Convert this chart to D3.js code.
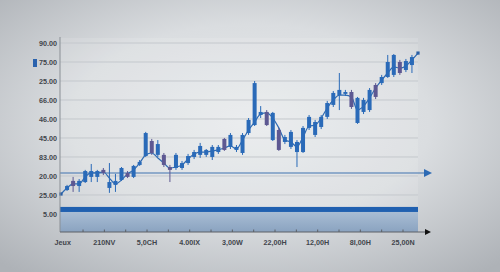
<!DOCTYPE html>
<html><head><meta charset="utf-8">
<script src="https://cdn.jsdelivr.net/npm/d3@7"></script>
<style>html,body{margin:0;padding:0;overflow:hidden;}svg{display:block;}</style>
</head><body>
<svg id="c" width="500" height="272"></svg>
<script>
// ---- data ----
const yTickValues = [0, 10, 20, 30, 40, 50, 60, 70, 80, 90];
const yTickLabels = ["5.00", "25.00", "20.00", "83.00", "45.00", "46.00", "66.00", "25.00", "75.00", "90.00"];
const xTickLabels = ["Jeux", "210NV", "5,0CH", "4.00IX", "3,00W", "22,00H", "12,00H", "8I,00H", "25,00N"];
const opens  = [12.6,17.4,14.7,16.8,19.5,19.5,23.2,13.7,15.3,17.9,21.6,19.5,25.8,30.5,38.4,31.1,31.1,24.7,24.2,24.2,26.8,30.0,31.1,31.1,30.0,32.6,39.5,35.3,33.7,32.1,42.6,46.8,52.1,53.7,38.9,44.2,37.9,35.3,32.6,32.6,45.3,41.6,45.8,51.1,57.4,62.6,63.2,64.2,47.9,53.7,54.7,67.9,68.9,72.1,73.2,80.0,75.8,78.4];
const closes = [14.7,14.7,17.4,22.6,22.6,22.6,21.6,16.8,17.4,24.2,19.5,25.3,27.4,42.6,32.1,36.8,25.8,23.2,31.1,26.8,30.5,32.6,35.8,33.7,35.3,35.3,33.7,41.6,35.3,41.6,49.5,68.9,53.7,46.8,53.2,33.7,40.5,43.2,37.9,45.3,51.1,48.4,51.1,58.4,63.7,65.3,64.2,56.3,61.1,60.0,65.3,61.6,72.1,80.0,83.7,74.2,80.5,82.6];
const highs  = [15.3,19.5,18.4,23.2,26.3,23.2,24.2,26.8,21.1,24.7,22.6,25.8,28.4,43.2,39.5,38.9,32.1,25.8,32.1,27.9,31.6,33.7,37.4,34.2,36.3,36.3,40.0,42.6,36.3,42.6,50.5,70.0,56.8,54.7,53.7,45.3,41.6,44.2,38.9,46.3,52.1,49.5,52.1,59.5,64.7,74.2,65.3,65.3,61.6,61.1,66.3,68.9,73.2,83.7,84.2,81.1,81.6,83.7];
const lows   = [12.1,11.6,11.6,16.3,16.8,16.8,20.5,11.1,11.6,17.4,18.9,18.9,25.3,30.0,31.1,30.0,24.7,16.8,23.2,23.2,25.8,28.9,29.5,30.0,28.4,31.6,33.2,34.2,32.6,31.1,41.6,46.3,50.5,46.3,38.4,33.2,36.8,34.2,24.7,32.1,44.2,40.5,44.7,50.0,56.3,54.7,62.1,55.3,47.4,52.6,53.7,60.5,67.9,71.6,72.1,73.2,74.7,74.2];
// trend line, points at index -1 .. 58
const trend = [10.5,13.7,15.8,15.8,19.5,21.6,21.6,22.1,18.9,15.8,17.9,21.1,23.2,26.8,31.1,32.1,29.5,26.8,24.2,24.7,25.8,28.9,31.6,32.6,32.6,33.2,33.7,34.7,35.8,34.2,38.9,44.2,48.4,52.6,53.2,50.5,45.3,38.9,37.9,35.3,40.5,46.3,46.8,50.5,55.8,60.0,62.6,62.6,61.6,54.7,56.8,61.1,66.3,70.5,74.2,77.4,76.8,77.9,81.1,84.7];
const refLevel = 21.6;
const bandTop = 3.7, bandBottom = 1.05;

// ---- setup ----
const svg = d3.select("#c");
const W = 500, H = 272;
const defs = svg.append("defs");
const rg = defs.append("radialGradient").attr("id","bg").attr("cx","0.5").attr("cy","0.45").attr("r","0.72");
rg.append("stop").attr("offset","0%").attr("stop-color","#e8ebed");
rg.append("stop").attr("offset","50%").attr("stop-color","#dadde0");
rg.append("stop").attr("offset","100%").attr("stop-color","#aeb2b7");
const lg = defs.append("linearGradient").attr("id","fill").attr("x1",0).attr("y1",0).attr("x2",0).attr("y2",1);
lg.append("stop").attr("offset","0%").attr("stop-color","#a9bdd4");
lg.append("stop").attr("offset","100%").attr("stop-color","#8aa3c0");
svg.append("rect").attr("width",W).attr("height",H).attr("fill","url(#bg)");

const x0 = 60, x1 = 418;
const y = d3.scaleLinear().domain([-9.5, 90]).range([232, 43]);
const x = d3.scaleLinear().domain([-1, 58]).range([61, 418]);
const xa = d3.scaleLinear().domain([0, 16]).range([61.7, 403]);

// plot area slight highlight
svg.append("rect").attr("x", x0).attr("y", 38).attr("width", x1 - x0).attr("height", y(bandTop) - 38)
  .attr("fill", "#ffffff").attr("opacity", 0.12);

// gridlines
svg.append("g").selectAll("line").data(yTickValues).join("line")
  .attr("x1", x0).attr("x2", x1).attr("y1", d => y(d)).attr("y2", d => y(d))
  .attr("stroke", "#c4c8cd").attr("stroke-width", 1);

// y labels
svg.append("g").selectAll("text").data(yTickValues).join("text")
  .attr("x", 57).attr("y", d => y(d) + 2.6).attr("text-anchor", "end")
  .attr("font-family", "Liberation Sans, Arial, sans-serif").attr("font-size", 7.2).attr("font-weight", "bold")
  .attr("fill", "#41454b").text((d, i) => yTickLabels[i]);

// legend marker
svg.append("rect").attr("x", 33).attr("y", 59).attr("width", 4).attr("height", 8).attr("fill", "#2a62ad");

// bottom band
svg.append("rect").attr("x", x0).attr("width", x1 - x0).attr("y", y(bandBottom)).attr("height", y(-9.5) - y(bandBottom)).attr("fill", "url(#fill)");
svg.append("rect").attr("x", x0).attr("width", x1 - x0).attr("y", y(bandTop)).attr("height", y(bandBottom) - y(bandTop)).attr("fill", "#2060b0");

// reference line with arrow
svg.append("line").attr("x1", x0).attr("x2", 425).attr("y1", y(refLevel)).attr("y2", y(refLevel))
  .attr("stroke", "#3f72b0").attr("stroke-width", 1.1);
svg.append("path").attr("d", `M424,${y(refLevel)-4}L432,${y(refLevel)}L424,${y(refLevel)+4}Z`).attr("fill", "#2c6ab4");

// trend line
const idx = d3.range(-1, 59);
svg.append("path").datum(trend)
  .attr("d", d3.line().x((d, i) => x(idx[i])).y(d => y(d)).curve(d3.curveMonotoneX))
  .attr("fill", "none").attr("stroke", "#2f6bb3").attr("stroke-width", 1.2);
svg.append("g").selectAll("rect").data([0, trend.length - 1]).join("rect")
  .attr("x", i => x(idx[i]) - 1.6).attr("y", i => y(trend[i]) - 1.6).attr("width", 3.2).attr("height", 3.2).attr("fill", "#2a5fa5");

// candles
const cand = opens.map((o, i) => ({i, o, c: closes[i], h: highs[i], l: lows[i]}));
const col = d => d.c >= d.o ? "#2a6ab8" : "#5d5892";
const cg = svg.append("g");
cg.selectAll("line").data(cand).join("line")
  .attr("x1", d => x(d.i)).attr("x2", d => x(d.i)).attr("y1", d => y(d.h)).attr("y2", d => y(d.l))
  .attr("stroke", col).attr("stroke-width", 1);
cg.selectAll("rect").data(cand).join("rect")
  .attr("x", d => x(d.i) - 2).attr("width", 4)
  .attr("y", d => y(Math.max(d.o, d.c))).attr("height", d => Math.max(1.2, Math.abs(y(d.o) - y(d.c))))
  .attr("fill", col);

// y axis line
svg.append("line").attr("x1", x0).attr("x2", x0).attr("y1", 37).attr("y2", 232).attr("stroke", "#8a8f95").attr("stroke-width", 1);

// x axis
svg.append("line").attr("x1", x0).attr("x2", 426).attr("y1", 232).attr("y2", 232).attr("stroke", "#5c6066").attr("stroke-width", 1);
svg.append("path").attr("d", "M425,229L431,232L425,235Z").attr("fill", "#111");
svg.append("g").selectAll("line").data(d3.range(1, 17)).join("line")
  .attr("x1", d => xa(d)).attr("x2", d => xa(d)).attr("y1", 229.5).attr("y2", 232)
  .attr("stroke", "#5c6066").attr("stroke-width", 1);
svg.append("g").selectAll("text").data(xTickLabels).join("text")
  .attr("x", (d, i) => xa(i * 2) + (i === 0 ? 1 : 0)).attr("y", 245).attr("text-anchor", "middle")
  .attr("font-family", "Liberation Sans, Arial, sans-serif").attr("font-size", 7.2).attr("font-weight", "bold")
  .attr("fill", "#41454b").text(d => d);
</script>
</body></html>
